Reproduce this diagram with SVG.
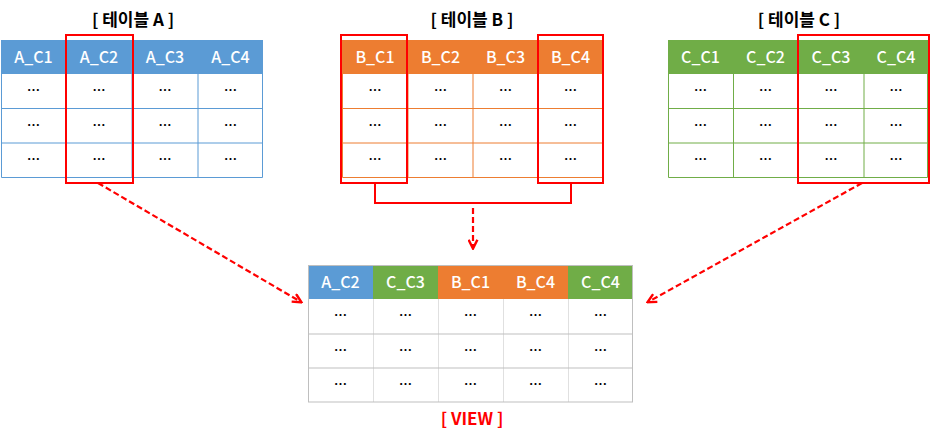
<svg xmlns="http://www.w3.org/2000/svg" width="937" height="437" viewBox="0 0 937 437">
<defs>
<style>
.title{font-family:"Noto Sans CJK KR","Noto Sans",sans-serif;font-size:17px;font-weight:bold;fill:#000;text-anchor:middle}
.vtitle{font-family:"Noto Sans CJK KR","Noto Sans",sans-serif;font-size:17px;font-weight:bold;fill:#ff0000;text-anchor:middle}
.hd{font-family:"Noto Sans CJK KR","Noto Sans",sans-serif;font-size:16px;font-weight:500;fill:#fff;text-anchor:middle}
.cell{font-family:"Noto Sans CJK KR","Noto Sans",sans-serif;font-size:13px;font-weight:bold;fill:#000;text-anchor:middle}
.sel{fill:none;stroke:#ff0000;stroke-width:2}
.arrow{fill:none;stroke:#ff0000;stroke-width:2.2;stroke-dasharray:6,3}
.blue{fill:#5b9bd5}.orange{fill:#ed7d31}.green{fill:#70ad47}
.lb{stroke:#5b9bd5;stroke-width:1;fill:none}
.lo{stroke:#ed7d31;stroke-width:1;fill:none}
.lg{stroke:#70ad47;stroke-width:1;fill:none}
.lv{stroke:#bfbfbf;stroke-width:1;fill:none}
.lvi{stroke:#e0e0e0;stroke-width:1;fill:none}
</style>
<marker id="ah" viewBox="0 0 10 10" refX="8.5" refY="5" markerWidth="5" markerHeight="5" orient="auto" markerUnits="strokeWidth">
<path d="M1,1 L9,5 L1,9" fill="none" stroke="#ff0000" stroke-width="2.2"/>
</marker>
</defs>
<rect width="937" height="437" fill="#fff"/>

<g id="tableA">
<text class="title" x="133" y="26">[ 테이블 A ]</text>
<rect class="blue" x="1" y="40" width="262" height="34"/>
<text class="hd" x="33.5" y="62.5">A_C1</text>
<text class="hd" x="99" y="62.5">A_C2</text>
<text class="hd" x="165" y="62.5">A_C3</text>
<text class="hd" x="230.5" y="62.5">A_C4</text>
<path class="lb" d="M1.5,74V177.5H262.5V74M1,108.5H263M1,143H263M66.5,74V177M132,74V177M198,74V177"/>
<g class="cell">
<text x="33.5" y="95">…</text><text x="99" y="95">…</text><text x="165" y="95">…</text><text x="230.5" y="95">…</text>
<text x="33.5" y="130">…</text><text x="99" y="130">…</text><text x="165" y="130">…</text><text x="230.5" y="130">…</text>
<text x="33.5" y="164">…</text><text x="99" y="164">…</text><text x="165" y="164">…</text><text x="230.5" y="164">…</text>
</g>
<rect class="sel" x="66" y="35" width="67" height="148"/>
</g>

<g id="tableB">
<text class="title" x="472" y="26">[ 테이블 B ]</text>
<rect class="orange" x="342" y="40" width="261" height="34"/>
<text class="hd" x="375" y="62.5">B_C1</text>
<text class="hd" x="440.5" y="62.5">B_C2</text>
<text class="hd" x="505.5" y="62.5">B_C3</text>
<text class="hd" x="570.5" y="62.5">B_C4</text>
<path class="lo" d="M342.5,74V177.5H602.5V74M342,108.5H603M342,143H603M408,74V177M473,74V177M538,74V177"/>
<g class="cell">
<text x="375" y="95">…</text><text x="440.5" y="95">…</text><text x="505.5" y="95">…</text><text x="570.5" y="95">…</text>
<text x="375" y="130">…</text><text x="440.5" y="130">…</text><text x="505.5" y="130">…</text><text x="570.5" y="130">…</text>
<text x="375" y="164">…</text><text x="440.5" y="164">…</text><text x="505.5" y="164">…</text><text x="570.5" y="164">…</text>
</g>
<rect class="sel" x="341" y="35" width="66" height="148"/>
<rect class="sel" x="538" y="35" width="65" height="148"/>
<path class="sel" d="M375,183V203H571V183"/>
</g>

<g id="tableC">
<text class="title" x="799" y="26">[ 테이블 C ]</text>
<rect class="green" x="668" y="40" width="260" height="34"/>
<text class="hd" x="700.5" y="62.5">C_C1</text>
<text class="hd" x="765.5" y="62.5">C_C2</text>
<text class="hd" x="831" y="62.5">C_C3</text>
<text class="hd" x="896" y="62.5">C_C4</text>
<path class="lg" d="M668.5,74V177.5H927.5V74M668,108.5H928M668,143H928M733.5,74V177M798.5,74V177M864,74V177"/>
<g class="cell">
<text x="700.5" y="95">…</text><text x="765.5" y="95">…</text><text x="831" y="95">…</text><text x="896" y="95">…</text>
<text x="700.5" y="130">…</text><text x="765.5" y="130">…</text><text x="831" y="130">…</text><text x="896" y="130">…</text>
<text x="700.5" y="164">…</text><text x="765.5" y="164">…</text><text x="831" y="164">…</text><text x="896" y="164">…</text>
</g>
<rect class="sel" x="798" y="35" width="131" height="148"/>
</g>

<g id="view">
<rect class="blue" x="308" y="265" width="65" height="34"/>
<rect class="green" x="373" y="265" width="65" height="34"/>
<rect class="orange" x="438" y="265" width="130" height="34"/>
<rect class="green" x="568" y="265" width="65" height="34"/>
<text class="hd" x="340.5" y="287.5">A_C2</text>
<text class="hd" x="405.5" y="287.5">C_C3</text>
<text class="hd" x="470.5" y="287.5">B_C1</text>
<text class="hd" x="535.5" y="287.5">B_C4</text>
<text class="hd" x="600.5" y="287.5">C_C4</text>
<path class="lvi" d="M373.5,299V402M438.5,299V402M503.5,299V402M568.5,299V402"/>
<path class="lv" d="M308,334H633M308,368H633"/>
<rect class="lv" x="308.5" y="265.5" width="324" height="136.5"/>
<g class="cell">
<text x="340.5" y="320">…</text><text x="405.5" y="320">…</text><text x="470.5" y="320">…</text><text x="535.5" y="320">…</text><text x="600.5" y="320">…</text>
<text x="340.5" y="355">…</text><text x="405.5" y="355">…</text><text x="470.5" y="355">…</text><text x="535.5" y="355">…</text><text x="600.5" y="355">…</text>
<text x="340.5" y="389">…</text><text x="405.5" y="389">…</text><text x="470.5" y="389">…</text><text x="535.5" y="389">…</text><text x="600.5" y="389">…</text>
</g>
<text class="vtitle" x="472" y="425">[ VIEW ]</text>
</g>

<g id="connectors">
<path class="arrow" d="M98,183L301,302" marker-end="url(#ah)"/>
<path class="arrow" d="M473,208V248" marker-end="url(#ah)"/>
<path class="arrow" d="M862,183L648,302" marker-end="url(#ah)"/>
</g>
</svg>
